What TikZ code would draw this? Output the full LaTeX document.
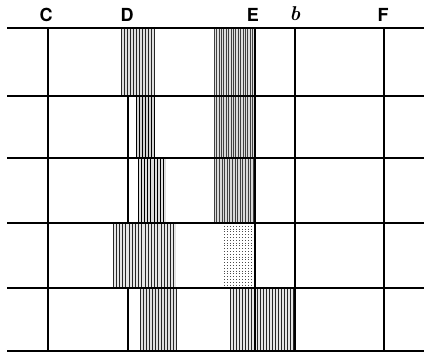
\documentclass[tikz,border=0pt]{standalone}
\usepackage{fontspec}
\setsansfont{TeX Gyre Heros}
\usepackage{tikz}

\begin{document}
\begin{tikzpicture}[
  x=1pt, y=-1pt,
  gridline/.style={line width=2.4pt, black},
  letter/.style={font=\sffamily\bfseries\fontsize{18}{18}\selectfont, inner sep=0pt},
  hatch/.style={line width=0.9pt, black!85},
  darkhatch/.style={line width=1pt, black},
  finehatch/.style={line width=0.6pt, black!75},
  dothatch/.style={line width=0.9pt, black!70, dash pattern=on 1pt off 1.8pt}
]
\useasboundingbox (0,0) rectangle (424,354);

% line names
\node[letter] (lblC) at (46,15) {C};
\node[letter] (lblD) at (127,15) {D};
\node[letter] (lblE) at (253,15) {E};
\node[font=\bfseries\itshape\fontsize{20}{20}\selectfont, inner sep=0pt] (lblb) at (295,14) {b};
\node[letter] (lblF) at (383,15) {F};

% D line only below the first strip
\draw[gridline] (128,96) -- (128,351);

% bands: x from, x to, y from, y to, fill, style, spacing
\foreach \xa/\xb/\ya/\yb/\fc/\st/\sp in {
    121/154/28/95/gray!25/hatch/3,
    136/155/96/158/gray!35/darkhatch/3,
    138/166/158/223/gray!25/darkhatch/3.2,
    113/176/223/288/gray!20/hatch/3.2,
    140/176/288/351/gray!25/hatch/3,
    214/254/28/96/gray!25/finehatch/2.4,
    214/254/96/158/gray!30/finehatch/2.4,
    214/254/158/223/gray!30/finehatch/2.6,
    224/254/223/288/white/dothatch/3,
    230/294/288/351/gray!20/hatch/3}{
  \fill[\fc] (\xa,\ya) rectangle (\xb,\yb);
  \pgfmathsetmacro\xn{\xa+\sp}
  \foreach \x in {\xa,\xn,...,\xb}
    \draw[\st] (\x,\ya) -- (\x,\yb);
}

% other vertical lines
\foreach \x in {48,255,295,384}
  \draw[gridline] (\x,28) -- (\x,351);

% horizontal lines
\foreach \y in {28,96,158,223,288,351}
  \draw[gridline] (7,\y) -- (424,\y);

\end{tikzpicture}
\end{document}
